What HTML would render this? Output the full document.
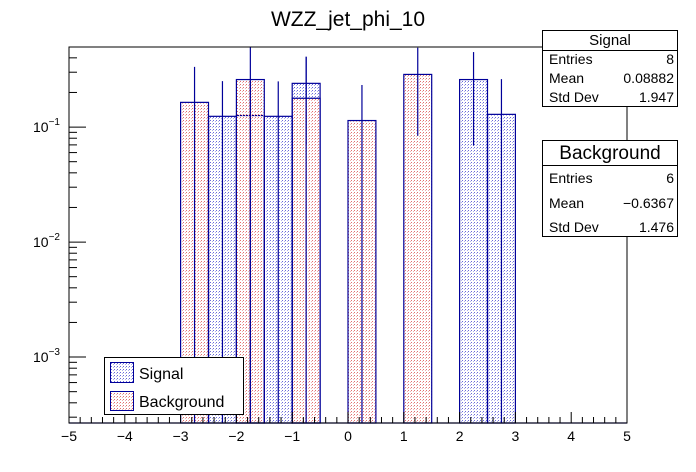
<!DOCTYPE html>
<html><head><meta charset="utf-8"><style>
body{margin:0;background:#fff;}
svg{display:block;font-family:"Liberation Sans",Arial,sans-serif;}
</style></head><body>
<svg id="c" width="696" height="472" viewBox="0 0 696 472">
<defs>
<pattern id="pb" width="3" height="3" patternUnits="userSpaceOnUse"><rect x="0" y="0" width="1" height="1" fill="#6a6ad8"/><rect x="2" y="1" width="1" height="1" fill="#b0b0ec"/></pattern>
<pattern id="pr" width="3" height="3" patternUnits="userSpaceOnUse"><rect x="0" y="0" width="1" height="1" fill="#e07070"/><rect x="2" y="1" width="1" height="1" fill="#f0b0b0"/></pattern>
</defs>
<text x="348" y="26" text-anchor="middle" font-size="21">WZZ_jet_phi_10</text>
<g id="plot"></g>
<g id="axes"></g>
<rect x="69" y="47" width="558" height="376" fill="none" stroke="#000" stroke-width="1"/>
<g>
<rect x="542.5" y="30.5" width="135" height="76" fill="#fff" stroke="#000"/>
<line x1="542.5" y1="50.5" x2="677.5" y2="50.5" stroke="#000"/>
<text x="610" y="45" text-anchor="middle" font-size="15">Signal</text>
<text x="549" y="64" font-size="14">Entries</text><text x="674" y="64" font-size="14" text-anchor="end">8</text>
<text x="549" y="83" font-size="14">Mean</text><text x="674" y="83" font-size="14" text-anchor="end">0.08882</text>
<text x="549" y="102" font-size="14">Std Dev</text><text x="674" y="102" font-size="14" text-anchor="end">1.947</text>
</g>
<g>
<rect x="542.5" y="140.5" width="135" height="96" fill="#fff" stroke="#000"/>
<line x1="542.5" y1="165.5" x2="677.5" y2="165.5" stroke="#000"/>
<text x="610" y="159" text-anchor="middle" font-size="19">Background</text>
<text x="549" y="183" font-size="14">Entries</text><text x="674" y="183" font-size="14" text-anchor="end">6</text>
<text x="549" y="208" font-size="14">Mean</text><text x="674" y="208" font-size="14" text-anchor="end">−0.6367</text>
<text x="549" y="232" font-size="14">Std Dev</text><text x="674" y="232" font-size="14" text-anchor="end">1.476</text>
</g>
<g>
<rect x="104.5" y="357.5" width="139" height="57" fill="#fff" stroke="#000"/>
<rect x="110.5" y="362.5" width="23" height="20" fill="url(#pb)" stroke="#000099"/>
<text x="139" y="379" font-size="16">Signal</text>
<rect x="110.5" y="391.5" width="23" height="19" fill="url(#pr)" stroke="#000099"/>
<text x="139" y="407" font-size="16">Background</text>
</g>
</svg>
<script>
const binLow = [-3,-2.5,-2,-1.5,-1,-0.5,0,0.5,1,1.5,2,2.5];
const signalVals = [0,0.124,0.126,0.124,0.240,0,0,0,0,0,0.259,0.129];
const signalErrs = [0,0.127,0.126,0.126,0.17,0,0,0,0,0,0.19,0.132];
const bkgVals = [0.164,0,0.259,0,0.178,0,0.114,0,0.287,0,0,0];
const bkgErrs = [0.17,0,0.26,0,0.229,0,0.118,0,0.203,0,0,0];
const xTicks = [-5,-4,-3,-2,-1,0,1,2,3,4,5];
const yDecades = [-3,-2,-1];

const NS='http://www.w3.org/2000/svg';
const X0=69,X1=627,Y0=423,Y1=47, XMIN=-5,XMAX=5;
const LMIN=Math.log10(2.67e-4), LMAX=Math.log10(0.497);
const sx=v=>X0+(v-XMIN)/(XMAX-XMIN)*(X1-X0);
const sy=v=>{if(v<=0)return Y0;let l=Math.log10(v);l=Math.max(LMIN,Math.min(LMAX,l));return Y0-(l-LMIN)/(LMAX-LMIN)*(Y0-Y1);};
const plot=document.getElementById('plot'), axes=document.getElementById('axes');
function mk(tag,at,parent){const e=document.createElementNS(NS,tag);for(const k in at)e.setAttribute(k,at[k]);parent.appendChild(e);return e;}
const BW=0.5, LC='#000099';
function drawHist(vals,errs,pat,name){
  vals.forEach((v,i)=>{
    if(v<=0)return;
    const x=sx(binLow[i]), w=sx(binLow[i]+BW)-x, y=sy(v);
    const r=mk('rect',{x:x,y:y,width:w,height:Y0-y,fill:pat,stroke:LC,'stroke-width':1.2},plot);
    
    
  });
  vals.forEach((v,i)=>{
    if(v<=0)return;
    const xc=sx(binLow[i]+BW/2);
    const l=mk('line',{x1:xc,x2:xc,y1:sy(v+errs[i]),y2:sy(v-errs[i]),stroke:LC,'stroke-width':1.2},plot);
    
    
  });
}
drawHist(signalVals,signalErrs,'url(#pb)','signal');
drawHist(bkgVals,bkgErrs,'url(#pr)','background');
const base=mk('line',{x1:X0,x2:X1,y1:Y0,y2:Y0,stroke:LC,'stroke-width':1.2},axes);


for(let k=0;k<=50;k++){
  const v=XMIN+k*0.2, x=sx(v), major=(k%5===0);
  mk('line',{x1:x,x2:x,y1:Y0,y2:Y0-(major?11:6),stroke:'#000'},axes);
}
xTicks.forEach(t=>{
  const tx=mk('text',{x:sx(t),y:441,'text-anchor':'middle','font-size':14},axes);
  tx.textContent=(t<0?'−':'')+Math.abs(t);
  
  
});
for(let d=-4;d<=-1;d++){
  for(let m=1;m<=9;m++){
    const v=m*Math.pow(10,d), l=Math.log10(v);
    if(l<LMIN||l>LMAX)continue;
    const y=sy(v);
    mk('line',{x1:X0,x2:X0+(m===1?17:8),y1:y,y2:y,stroke:'#000'},axes);
  }
}
yDecades.forEach(d=>{
  const y=sy(Math.pow(10,d));
  const t=mk('text',{x:60,y:y+5,'text-anchor':'end','font-size':14},axes);
  t.textContent='10';
  const s=mk('tspan',{dy:-7,'font-size':10},t);
  s.textContent=(d<0?'−':'')+Math.abs(d);
  
  
});
</script>
</body></html>
